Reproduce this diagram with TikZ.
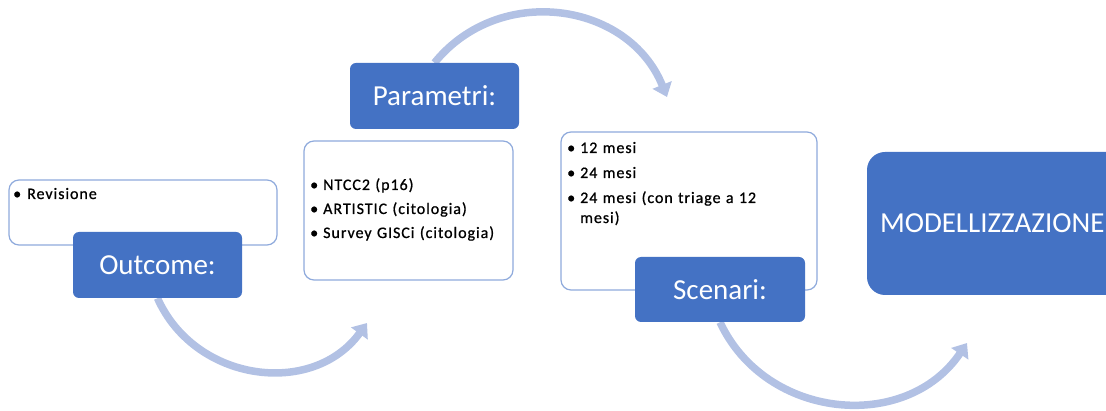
\documentclass[tikz,border=0pt]{standalone}
\usepackage{fontspec}
\setmainfont{Carlito}
\newfontfamily\listfont[LetterSpace=6,FakeBold=0.8]{Carlito}
\usetikzlibrary{arrows.meta,backgrounds}
\definecolor{headblue}{HTML}{4472C4}
\definecolor{edgeblue}{HTML}{8FAADC}
\definecolor{flowblue}{HTML}{B2C1E4}

\begin{document}
\begin{tikzpicture}[x=1pt,y=1pt,
  header/.style={fill=headblue, draw=none, rounded corners=6pt, text=white,
    font=\fontsize{29}{34}\selectfont, inner sep=0pt},
  listbox/.style={draw=edgeblue, line width=1.2pt, fill=white,
    rounded corners=10pt, inner sep=0pt},
  listtext/.style={font=\listfont\fontsize{16}{20}\selectfont, inner sep=0pt,
    align=left, anchor=base west},
  flow/.style={draw=flowblue, line width=7.5pt,
    -{Triangle[width=20pt,length=13pt]}}]

\useasboundingbox (0,0) rectangle (1106,-411);

% step 1: outcome
\node[listbox, minimum width=268pt, minimum height=65pt] (revbox) at (143,-212.5) {};
\node[header, minimum width=169pt, minimum height=66pt] (outcome) at (157.5,-265) {Outcome:};
\node[listtext, text width=250pt] (revtext) at (13,-199)
  {\makebox[14pt][l]{\textbullet}Revisione};

% step 2: parameters
\node[header, minimum width=169pt, minimum height=66pt] (param) at (434.5,-96) {Parametri:};
\node[listbox, minimum width=209pt, minimum height=139pt] (paramlist) at (408.5,-210.5) {};
\node[listtext, text width=200pt] (paramtext) at (310,-190)
  {\makebox[13pt][l]{\textbullet}NTCC2 (p16)\\[4pt]
   \makebox[13pt][l]{\textbullet}ARTISTIC (citologia)\\[4pt]
   \makebox[13pt][l]{\textbullet}Survey GISCi (citologia)};

% step 3: scenarios
\node[listbox, minimum width=256pt, minimum height=158pt] (scenlist) at (689,-211) {};
\node[header, minimum width=170pt, minimum height=65pt] (scen) at (720,-289.5) {Scenari:};
\node[listtext, text width=245pt] (scentext) at (567,-153)
  {\makebox[13pt][l]{\textbullet}12 mesi\\[5pt]
   \makebox[13pt][l]{\textbullet}24 mesi\\[5pt]
   \makebox[13pt][l]{\textbullet}24 mesi (con triage a 12\\
   \hspace*{13pt}mesi)};

% step 4: modelling
\begin{scope}
  \clip (0,0) rectangle (1106,-411);
  \node[header, rounded corners=18pt, minimum width=273pt, minimum height=143pt,
        text width=247pt, align=left] (model) at (1003.5,-223.5) {MODELLIZZAZIONE};
\end{scope}

% curved flow arrows
\begin{scope}[on background layer]
  \coordinate (f1) at (367,-323);
  \draw[flow] (outcome.south) to[out=-66, in=234, looseness=1.12] (f1);
  \coordinate (f2) at (667,-97);
  \draw[flow] (param.north) to[out=51, in=112, looseness=1.12] (f2);
  \coordinate (f3) at (967,-343);
  \draw[flow] (scen.south) to[out=-65, in=236, looseness=1.12] (f3);
\end{scope}
\end{tikzpicture}
\end{document}
